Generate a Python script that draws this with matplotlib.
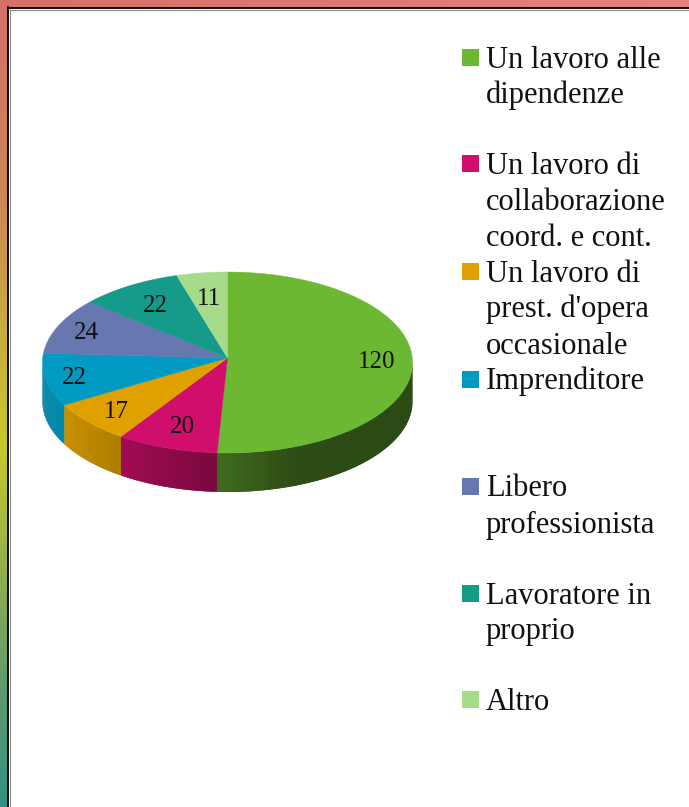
import numpy as np
import matplotlib
matplotlib.use("Agg")
import matplotlib.pyplot as plt
from matplotlib.patches import Polygon, Rectangle
from matplotlib.colors import LinearSegmentedColormap, to_rgb

categories = ["Un lavoro alle\ndipendenze", "Un lavoro di\ncollaborazione\ncoord. e cont.",
              "Un lavoro di\nprest. d'opera\noccasionale", "Imprenditore",
              "Libero\nprofessionista", "Lavoratore in\nproprio", "Altro"]
values = [120, 20, 17, 22, 24, 22, 11]
colors = ["#6DB833", "#CF0F6B", "#DFA000", "#009AC3", "#6777AF", "#159B8A", "#A6DB8A"]
legend_y = [57, 163, 271, 379, 486, 593, 699]
label_f = [0.805, 0.775, 0.83, 0.85, 0.82, 0.71, 0.68]

W, H = 689, 807
plt.rcParams["font.family"] = ["Liberation Serif", "DejaVu Serif"]
fig = plt.figure(figsize=(W / 100, H / 100), dpi=100)
ax = fig.add_axes([0, 0, 1, 1])

# frame gradient
left = LinearSegmentedColormap.from_list("l", [(0, "#D5706A"), (0.25, "#CD8755"), (0.4, "#C8AA41"),
                                               (0.555, "#C6C82D"), (0.7, "#96AF4B"), (0.85, "#5F9B6E"),
                                               (1, "#329182")])
top = LinearSegmentedColormap.from_list("t", ["#D57069", "#E6827D"])
ax.imshow(np.linspace(0, 1, 256)[:, None], cmap=left, extent=(0, 8, H, 0), aspect="auto", zorder=1)
ax.imshow(np.linspace(0, 1, 256)[None, :], cmap=top, extent=(0, W, 7, 0), aspect="auto", zorder=2)
ax.set_xlim(0, W)
ax.set_ylim(H, 0)
ax.axis("off")
ax.plot([9.6, 9.6], [H, 9.2], color="#888888", lw=0.8, zorder=3, solid_capstyle="butt")
ax.plot([9.2, W], [9.6, 9.6], color="#888888", lw=0.8, zorder=3, solid_capstyle="butt")
ax.plot([8.2, 8.2], [H, 7.2], color="#0A0A0A", lw=1.4, zorder=3, solid_capstyle="projecting")
ax.plot([8.2, W], [8.1, 8.1], color="#0A0A0A", lw=1.4, zorder=3, solid_capstyle="butt")

cx, cy, rx, ry, depth = 227.5, 358, 185, 90.5, 39
d = 4.5 / ry   # rim ellipse sits a little below the apex (perspective)


def rim(a):
    """Point on the rim along the ray from the apex at angle a (clockwise from top)."""
    sx, sy = np.sin(a), -np.cos(a)
    t = sy * d + np.sqrt((sy * d) ** 2 - d ** 2 + 1)
    return cx + rx * t * sx, cy + ry * t * sy


total = sum(values)
edges = np.concatenate([[0], np.cumsum(values)]) / total * 2 * np.pi

# side walls
vis_lo, vis_hi = np.pi / 2 + np.arctan(d), 3 * np.pi / 2 - np.arctan(d)
for i, c in enumerate(colors):
    lo, hi = max(edges[i], vis_lo), min(edges[i + 1], vis_hi)
    if hi <= lo:
        continue
    base = np.array(to_rgb(c))
    n = 60
    aa = np.linspace(lo, hi, n + 1)
    for j in range(n):
        seg = np.linspace(aa[j], aa[min(j + 2, n)], 4)
        xs, ys = rim(seg)
        xm = xs.mean()
        shade = np.interp(xm, [44, 64, 120, 217, 290, 412], [0.85, 0.90, 0.78, 0.58, 0.42, 0.40])
        col = base * shade
        ax.add_patch(Polygon(np.column_stack([np.r_[xs, xs[::-1]], np.r_[ys, ys[::-1] + depth]]),
                             fc=col, ec="none", zorder=4))

# top faces
for i, c in enumerate(colors):
    aa = np.linspace(edges[i], edges[i + 1], 120)
    xs, ys = rim(aa)
    ax.add_patch(Polygon(np.column_stack([np.r_[cx, xs], np.r_[cy, ys]]), fc=c, ec=c, lw=0.3, zorder=5))

# data labels along each slice's mid angle
for i, v in enumerate(values):
    mid = (edges[i] + edges[i + 1]) / 2
    x = cx + label_f[i] * rx * np.sin(mid)
    y = cy - label_f[i] * ry * np.cos(mid) + 2
    ax.text(x, y, str(v), fontsize=18, ha="center", va="center", color="#111111", zorder=6)

# legend
for name, c, y in zip(categories, colors, legend_y):
    ax.add_patch(Rectangle((462, y - 8.5), 17, 17, fc=c, ec="none", zorder=6))
    for k, line in enumerate(name.split("\n")):
        ax.text(486, y + 10.5 + 36 * k, line, fontsize=22, ha="left", va="baseline",
                color="#111111", zorder=6)

fig.savefig("out.png", dpi=100)
